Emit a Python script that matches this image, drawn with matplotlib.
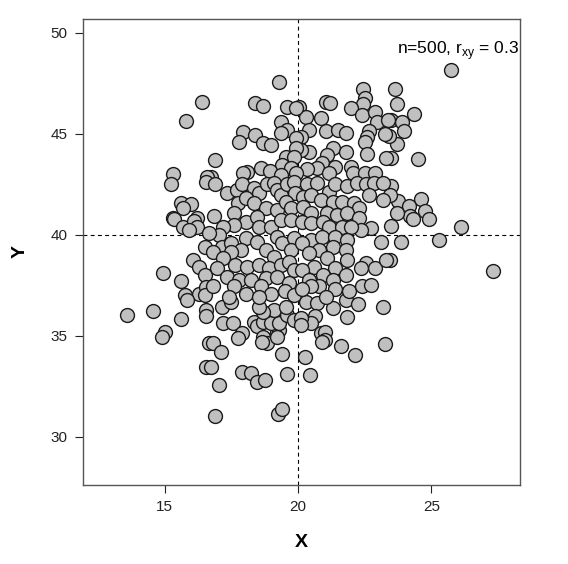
import matplotlib
matplotlib.use("Agg")
import matplotlib.pyplot as plt

# right side / outliers
xa = [25.73,27.3,26.1,25.3,23.86,23.45,24.6,24.75,24.9,23.75,24.15,24.2,24.3,23.7,23.5,23.5,23.45,
      23.63,23.7,23.5,23.9,24.35,23.97,23.7,23.5,24.5,23.4]
ya = [48.17,38.2,40.4,39.75,39.65,38.76,41.8,41.2,40.8,41.7,41.45,40.95,40.8,41.1,40.45,42.4,42.0,
      47.2,46.5,45.7,45.6,46.0,45.15,44.5,43.8,43.75,44.9]
# top middle
xb = [22.43,22.5,22.43,21.05,21.2,22.0,22.4,22.9,22.95,23.37,20.05,20.3,20.85,20.4,21.05,21.5,21.8,22.65,
      22.6,22.5,23.25,20.1,21.3,21.8,21.1,22.6,23.3,20.4,20.1,20.9,20.7,21.4,20.35,22.0,22.05,22.5,22.9,21.15]
yb = [47.2,46.8,46.5,46.6,46.55,46.3,45.95,46.1,45.6,45.7,46.35,45.85,45.8,45.2,45.15,45.2,45.05,45.15,
      44.85,44.6,45.0,44.85,44.3,44.1,43.95,44.0,43.8,44.1,44.2,43.55,43.3,43.35,43.25,43.35,43.05,43.05,43.05,43.05]
# top left
xc = [19.3,18.4,18.7,19.6,19.93,19.35,19.6,19.35,19.93,17.95,18.4,18.7,19.0,17.8,19.93,16.9,19.55,19.85,
      19.4,19.75,18.6,18.95,18.1,17.95,19.35,19.93,16.75,16.4,15.8,15.3,16.6]
yc = [47.55,46.55,46.4,46.35,46.3,45.6,45.2,45.05,44.8,45.1,44.95,44.55,44.45,44.6,44.3,43.7,43.85,43.85,
      43.45,43.3,43.3,43.15,43.1,43.05,42.95,43.05,42.85,46.6,45.65,43.0,42.85]
# left
xd = [15.25,15.6,16.0,15.7,15.3,15.35,15.7,16.2,16.1,16.2,15.9,16.55,16.5,16.05,16.3,14.95,16.5,15.6,
      15.75,16.3,16.55,16.5,13.6,14.55,15.6,15.0,14.9,15.85,16.55,16.55,16.65,16.55]
yd = [42.5,41.6,41.55,41.35,40.85,40.8,40.4,40.85,40.7,40.4,40.25,42.6,39.4,38.75,38.4,38.1,38.0,37.7,
      37.05,37.1,37.4,37.05,36.05,36.25,35.85,35.2,34.95,36.8,36.3,36.0,34.65,33.45]
# bottom
xe = [17.15,17.5,17.2,17.55,17.9,17.75,16.8,17.1,16.75,17.9,18.25,18.45,18.75,17.05,19.6,19.4,16.9,19.25,
      19.4,18.35,18.45,18.7,18.7,18.85,18.65,19.2,19.3,19.2,19.0,19.3,19.1,18.7,18.55,19.6,19.85,19.55,
      20.3,20.7,21.3,21.8,22.25,23.2,20.65,20.5,20.1,20.1,21.85,20.85,21.0,21.0,20.9,21.6,22.15,20.25,20.45,23.25]
ye = [36.45,36.7,35.65,35.65,35.15,34.9,34.65,34.2,33.45,33.2,33.15,32.7,32.8,32.55,33.1,34.1,31.05,31.15,
      31.4,35.7,35.5,35.7,34.95,34.65,34.7,35.2,35.3,34.95,35.65,35.65,36.3,36.2,36.45,36.05,35.8,36.45,
      36.7,36.65,36.4,36.8,36.6,36.45,36.0,35.65,35.9,35.55,35.95,35.15,35.2,34.8,34.7,34.5,34.05,33.95,33.05,34.6]
# core left
xf = [16.9,17.35,17.7,17.9,18.35,18.55,18.85,19.1,19.2,19.35,19.6,19.85,19.9,
      17.75,18.05,18.35,18.8,19.2,19.55,19.75,16.85,17.6,
      18.05,18.45,18.55,19.0,19.35,19.75,17.6,17.2,17.05,16.65,
      17.15,17.5,18.05,18.45,18.8,19.2,19.4,19.85,19.75,17.85,17.5,16.8,
      19.1,17.2,17.65,18.1,18.55,18.9,19.35,19.65,19.85,16.95,
      17.35,17.8,18.25,18.8,19.2,19.65,16.8,17.6,18.6,18.05,17.4,19.0,19.5,18.55,19.85]
yf = [42.5,42.1,42.2,42.5,42.3,42.1,42.5,42.55,42.2,42.0,42.5,42.6,42.1,
      41.6,41.85,41.6,41.35,41.25,41.65,41.35,40.95,41.1,
      40.65,40.9,40.4,40.4,40.75,40.75,40.5,40.4,40.0,40.1,
      39.4,39.6,39.85,39.65,39.25,39.9,39.6,39.85,39.25,39.25,39.15,39.15,
      38.9,38.85,38.5,38.4,38.5,38.35,38.5,38.65,38.25,38.35,
      37.9,37.75,37.75,37.85,37.9,37.6,37.45,37.45,37.45,37.1,36.95,37.1,37.2,36.95,37.05]
# core right
xg = [20.35,20.7,21.15,21.4,21.85,22.2,22.55,22.85,23.2,22.65,23.2,20.2,20.5,20.85,21.3,21.65,22.1,22.3,
      20.2,20.5,21.1,21.45,21.85,22.3,22.75,22.35,20.15,20.5,20.95,21.15,21.65,22.0,23.1,
      20.5,20.9,21.4,21.85,20.15,20.8,21.3,21.8,20.4,21.1,21.85,22.55,22.9,23.3,22.35,21.4,20.6,20.15,
      20.95,21.8,20.4,21.3,20.8,20.5,21.4,21.9,22.4,22.75,20.15,21.05]
yg = [42.5,42.55,42.15,42.5,42.4,42.55,42.5,42.55,42.55,42.0,41.75,41.9,42.0,41.75,41.65,41.65,41.6,41.35,
      41.4,41.1,41.1,41.0,41.1,40.85,40.35,40.25,40.65,40.6,40.65,40.4,40.4,40.4,39.65,
      39.75,39.9,39.9,39.75,39.6,39.25,39.4,39.25,39.1,38.85,38.75,38.6,38.35,38.75,38.35,38.35,38.4,38.25,
      38.0,38.0,37.75,37.75,37.45,37.45,37.3,37.2,37.45,37.5,37.3,36.95]

xs = xa + xb + xc + xd + xe + xf + xg
ys = ya + yb + yc + yd + ye + yf + yg

x_ticks = [15, 20, 25]
y_ticks = [30, 35, 40, 45, 50]
label = r"n=500, r$_{\mathrm{xy}}$ = 0.3"

plt.rcParams['font.family'] = ['Liberation Sans', 'DejaVu Sans']
plt.rcParams['mathtext.fontset'] = 'custom'
plt.rcParams['mathtext.rm'] = 'Liberation Sans'
fig = plt.figure(figsize=(5.68, 5.64), dpi=100)
ax = fig.add_axes([83/568, 1-485/564, (520-83)/568, (485-19)/564])

ax.axvline(20, color='black', lw=0.8, ls=(0, (3.5, 3)), zorder=1)
ax.axhline(40, color='black', lw=0.8, ls=(0, (3.5, 3)), zorder=1)
ax.scatter(xs, ys, s=100, facecolor='#c0c0c0', edgecolor='#1a1a1a', linewidths=1.0, zorder=2)

ax.set_xlim(11.93, 28.33)
ax.set_ylim(27.62, 50.69)
ax.set_xticks(x_ticks)
ax.set_yticks(y_ticks)
ax.tick_params(direction='out', length=6, width=0.8, labelsize=11, colors='#222222', pad=5)
for sp in ax.spines.values():
    sp.set_color('#555555')
    sp.set_linewidth(1.0)
ax.set_xlabel('X', fontsize=14, fontweight='bold', labelpad=14)
ax.set_ylabel('Y', fontsize=14, fontweight='bold', labelpad=16)
ax.text(0.998, 0.932, label, transform=ax.transAxes, ha='right', va='center', fontsize=12.5)

fig.savefig('out.png', dpi=100)
